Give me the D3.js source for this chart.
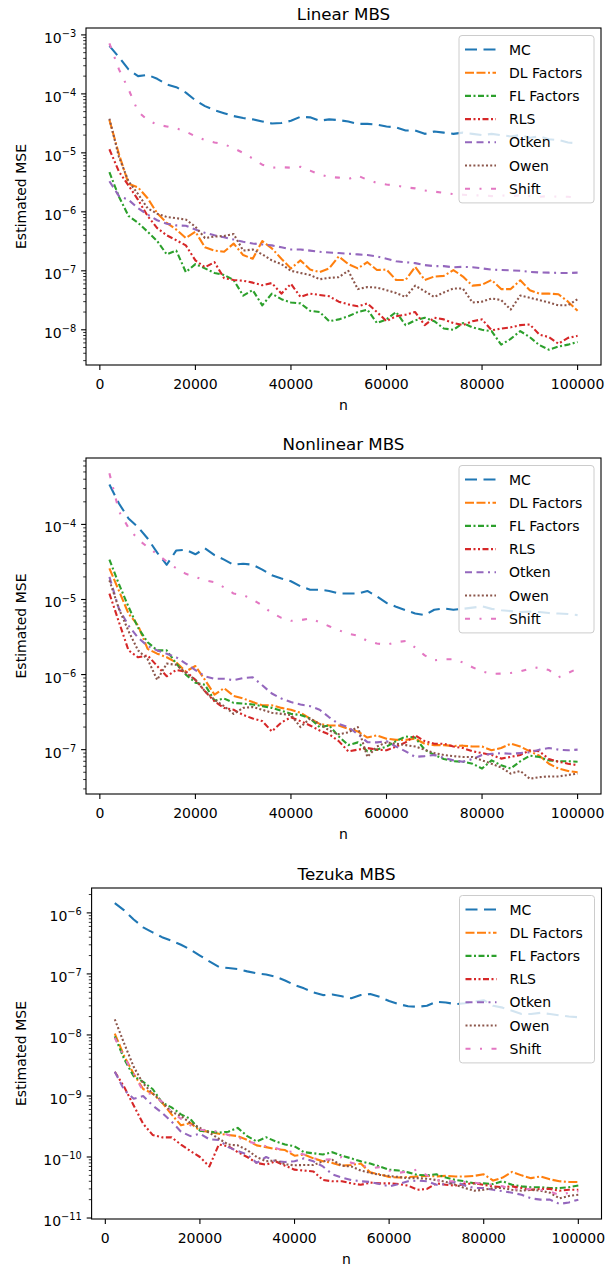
<!DOCTYPE html>
<html><head><meta charset="utf-8">
<script src="https://cdn.jsdelivr.net/npm/d3@7"></script>
<style>
body{margin:0;background:#fff}
svg{display:block}
text{font-family:"DejaVu Sans",sans-serif;fill:#000}
</style>
</head><body>
<svg id="chart" width="605" height="1272"></svg>
<script>
// ---------------- data ----------------
const nValues = [2000,4000,6000,8000,10000,12000,14000,16000,18000,20000,
  22000,24000,26000,28000,30000,32000,34000,36000,38000,40000,
  42000,44000,46000,48000,50000,52000,54000,56000,58000,60000,
  62000,64000,66000,68000,70000,72000,74000,76000,78000,80000,
  82000,84000,86000,88000,90000,92000,94000,96000,98000,100000];

const seriesNames  = ["MC","DL Factors","FL Factors","RLS","Otken","Owen","Shift"];
const seriesColors = ["#1f77b4","#ff7f0e","#2ca02c","#d62728","#9467bd","#8c564b","#e377c2"];
const seriesDashes = ["12,6.5","9,2.5,9,2.5,2,2.5","6,2.5,2,2.5","6,2.5,2,2.5,2,2.5","7,4.5,7,4.5,2,4.5","2,2.2","5,9.5,2,9.5"];
const xTickValues = [0,20000,40000,60000,80000,100000];
const panelTitles = ["Linear MBS","Nonlinear MBS","Tezuka MBS"];
const yAxisLabel = "Estimated MSE";
const xAxisLabel = "n";

// Linear MBS
const linearMC = [6.5e-4,4.2e-4,2.6e-4,2.0e-4,2.1e-4,1.8e-4,1.45e-4,1.3e-4,1.05e-4,7.8e-5,
  6.2e-5,5.3e-5,4.7e-5,4.2e-5,3.9e-5,3.7e-5,3.4e-5,3.15e-5,3.2e-5,3.5e-5,
  4.1e-5,4.0e-5,3.5e-5,3.7e-5,3.6e-5,3.4e-5,3.1e-5,3.1e-5,3.0e-5,2.8e-5,
  2.7e-5,2.4e-5,2.4e-5,2.1e-5,2.3e-5,2.2e-5,2.1e-5,2.2e-5,2.1e-5,2.0e-5,
  2.1e-5,2.0e-5,1.9e-5,2.0e-5,1.8e-5,1.9e-5,1.7e-5,1.65e-5,1.5e-5,1.45e-5];
const linearDL = [3.6e-5,9.5e-6,3.0e-6,2.6e-6,1.7e-6,9.5e-7,6.5e-7,5.0e-7,3.6e-7,4.6e-7,
  2.5e-7,2.2e-7,2.1e-7,2.9e-7,1.85e-7,1.6e-7,3.2e-7,2.4e-7,1.6e-7,1.1e-7,
  1.5e-7,1.05e-7,9.5e-8,1.1e-7,1.75e-7,1.3e-7,1.1e-7,1.4e-7,1.03e-7,1.05e-7,
  7.0e-8,7.0e-8,1.17e-7,7.0e-8,8.0e-8,8.2e-8,1.03e-7,8.0e-8,5.6e-8,5.8e-8,
  7.0e-8,4.9e-8,4.9e-8,6.9e-8,4.7e-8,4.1e-8,4.1e-8,4.0e-8,3.0e-8,2.1e-8];
const linearFL = [4.7e-6,1.8e-6,8.5e-7,6.5e-7,4.6e-7,3.2e-7,1.9e-7,2.2e-7,9.5e-8,1.3e-7,
  1.1e-7,9.2e-8,8.5e-8,7.0e-8,3.8e-8,4.7e-8,2.6e-8,4.1e-8,3.3e-8,2.9e-8,
  2.8e-8,2.1e-8,2.0e-8,1.4e-8,1.5e-8,1.7e-8,2.0e-8,2.2e-8,1.3e-8,1.5e-8,
  2.0e-8,1.2e-8,1.45e-8,1.6e-8,1.4e-8,1.05e-8,1.0e-8,1.3e-8,1.1e-8,1.0e-8,
  9.5e-9,5.6e-9,7.0e-9,9.5e-9,7.5e-9,5.5e-9,4.6e-9,5.2e-9,5.6e-9,6.2e-9];
const linearRLS = [1.15e-5,4.8e-6,2.8e-6,1.6e-6,8.5e-7,5.3e-7,4.0e-7,3.3e-7,2.7e-7,1.5e-7,
  1.15e-7,1.4e-7,7.5e-8,7.0e-8,6.8e-8,6.3e-8,5.7e-8,6.2e-8,4.1e-8,6.0e-8,
  3.6e-8,4.1e-8,3.9e-8,3.7e-8,3.0e-8,2.7e-8,2.5e-8,2.8e-8,2.0e-8,1.4e-8,
  1.7e-8,1.8e-8,2.0e-8,1.2e-8,1.6e-8,1.5e-8,1.3e-8,1.2e-8,1.4e-8,1.5e-8,
  9.8e-9,1.05e-8,1.1e-8,1.2e-8,1.23e-8,8.3e-9,7.5e-9,5.8e-9,7.3e-9,7.9e-9];
const linearOtken = [3.3e-6,1.85e-6,1.6e-6,1.15e-6,9.0e-7,7.2e-7,6.3e-7,5.9e-7,5.8e-7,5.0e-7,
  4.4e-7,4.0e-7,3.7e-7,3.4e-7,3.1e-7,2.9e-7,2.8e-7,2.7e-7,2.5e-7,2.3e-7,
  2.3e-7,2.2e-7,2.1e-7,2.05e-7,2.0e-7,1.95e-7,1.9e-7,1.85e-7,1.75e-7,1.6e-7,
  1.45e-7,1.4e-7,1.35e-7,1.25e-7,1.2e-7,1.2e-7,1.15e-7,1.17e-7,1.15e-7,1.1e-7,
  1.05e-7,1.03e-7,1.02e-7,1.0e-7,9.6e-8,9.4e-8,9.3e-8,9.2e-8,9.2e-8,9.3e-8];
const linearOwen = [3.8e-5,8.5e-6,3.3e-6,2.0e-6,1.15e-6,9.3e-7,8.2e-7,7.8e-7,7.4e-7,5.6e-7,
  3.6e-7,3.8e-7,3.9e-7,4.2e-7,2.2e-7,2.3e-7,1.9e-7,1.5e-7,1.3e-7,1.0e-7,
  9.2e-8,8.5e-8,7.2e-8,7.6e-8,7.8e-8,1.0e-7,4.9e-8,5.3e-8,5.2e-8,4.7e-8,
  4.2e-8,3.6e-8,5.6e-8,4.5e-8,3.6e-8,4.3e-8,5.0e-8,5.0e-8,2.9e-8,3.0e-8,
  3.4e-8,3.2e-8,2.2e-8,3.8e-8,3.5e-8,3.2e-8,2.9e-8,2.6e-8,2.6e-8,3.3e-8];
const linearShift = [7.2e-4,2.6e-4,1.2e-4,5.0e-5,3.6e-5,3.0e-5,2.8e-5,2.6e-5,2.3e-5,1.9e-5,
  1.65e-5,1.5e-5,1.4e-5,1.2e-5,1.0e-5,8.0e-6,6.3e-6,5.6e-6,5.7e-6,5.6e-6,
  5.8e-6,5.0e-6,4.3e-6,3.9e-6,3.8e-6,3.6e-6,4.1e-6,3.5e-6,3.1e-6,2.9e-6,
  2.8e-6,2.6e-6,2.5e-6,2.3e-6,2.2e-6,2.1e-6,2.0e-6,1.95e-6,1.9e-6,1.9e-6,
  1.85e-6,1.9e-6,1.85e-6,1.9e-6,1.85e-6,1.8e-6,1.85e-6,1.8e-6,1.8e-6,1.75e-6];

// Nonlinear MBS
const nonlinearMC = [3.4e-4,1.9e-4,1.2e-4,9.2e-5,6.5e-5,4.2e-5,2.9e-5,4.5e-5,4.6e-5,4.0e-5,
  4.8e-5,3.9e-5,3.4e-5,2.9e-5,3.0e-5,2.9e-5,2.5e-5,2.1e-5,1.9e-5,1.75e-5,
  1.5e-5,1.35e-5,1.35e-5,1.3e-5,1.2e-5,1.2e-5,1.2e-5,1.3e-5,1.1e-5,9.0e-6,
  8.0e-6,7.2e-6,6.5e-6,6.2e-6,7.3e-6,7.6e-6,7.3e-6,7.5e-6,7.8e-6,8.1e-6,
  7.5e-6,7.2e-6,7.0e-6,6.8e-6,6.9e-6,6.8e-6,6.6e-6,6.5e-6,6.4e-6,6.2e-6];
const nonlinearDL = [2.6e-5,1.3e-5,6.5e-6,4.5e-6,2.2e-6,1.9e-6,1.7e-6,1.45e-6,1.1e-6,1.3e-6,
  8.5e-7,5.4e-7,6.6e-7,5.2e-7,4.8e-7,4.3e-7,3.9e-7,3.9e-7,3.6e-7,3.4e-7,
  3.1e-7,2.6e-7,2.2e-7,2.1e-7,2.1e-7,1.9e-7,1.75e-7,1.45e-7,1.55e-7,1.4e-7,
  1.35e-7,1.35e-7,1.4e-7,1.2e-7,1.15e-7,1.15e-7,1.12e-7,1.13e-7,1.1e-7,1.1e-7,
  9.8e-8,1.05e-7,1.2e-7,1.1e-7,9.5e-8,8.3e-8,6.5e-8,5.6e-8,5.2e-8,5.0e-8];
const nonlinearFL = [3.4e-5,1.6e-5,8.0e-6,4.2e-6,2.7e-6,2.1e-6,2.1e-6,1.4e-6,1.0e-6,7.8e-7,
  7.3e-7,4.5e-7,4.8e-7,4.2e-7,4.1e-7,4.0e-7,3.8e-7,3.6e-7,3.3e-7,3.0e-7,
  2.9e-7,2.6e-7,2.0e-7,2.1e-7,1.5e-7,1.15e-7,1.25e-7,9.5e-8,1.0e-7,1.1e-7,
  1.3e-7,1.5e-7,1.45e-7,1.0e-7,8.5e-8,7.5e-8,7.0e-8,6.9e-8,6.5e-8,5.6e-8,
  7.2e-8,6.2e-8,5.6e-8,7.0e-8,8.3e-8,8.0e-8,7.2e-8,7.0e-8,7.0e-8,6.9e-8];
const nonlinearRLS = [1.2e-5,5.0e-6,2.1e-6,1.7e-6,1.8e-6,1.3e-6,9.5e-7,1.15e-6,1.1e-6,8.5e-7,
  6.0e-7,4.4e-7,3.6e-7,3.4e-7,2.9e-7,2.6e-7,2.4e-7,1.75e-7,2.3e-7,2.7e-7,
  2.4e-7,2.1e-7,1.8e-7,1.6e-7,1.3e-7,9.5e-8,1.0e-7,1.05e-7,1.0e-7,9.8e-8,
  1.1e-7,1.25e-7,1.55e-7,1.3e-7,1.2e-7,1.2e-7,1.1e-7,1.05e-7,9.5e-8,9.0e-8,
  8.5e-8,7.6e-8,8.0e-8,8.5e-8,9.8e-8,9.5e-8,7.5e-8,6.9e-8,6.5e-8,6.2e-8];
const nonlinearOtken = [2.0e-5,7.5e-6,4.5e-6,3.1e-6,2.4e-6,2.1e-6,1.9e-6,1.7e-6,1.4e-6,1.15e-6,
  9.5e-7,8.8e-7,8.8e-7,8.4e-7,9.0e-7,9.2e-7,7.2e-7,5.6e-7,4.8e-7,4.3e-7,
  4.0e-7,3.8e-7,3.4e-7,2.7e-7,2.2e-7,2.0e-7,1.6e-7,1.26e-7,1.25e-7,1.3e-7,
  1.1e-7,9.5e-8,8.0e-8,8.2e-8,8.5e-8,7.8e-8,7.2e-8,6.9e-8,7.5e-8,8.5e-8,
  8.8e-8,9.0e-8,8.8e-8,9.0e-8,9.2e-8,1.0e-7,1.05e-7,1.0e-7,9.8e-8,1.0e-7];
const nonlinearOwen = [1.8e-5,7.5e-6,3.8e-6,2.1e-6,1.6e-6,8.5e-7,1.4e-6,1.35e-6,1.05e-6,8.5e-7,
  6.0e-7,4.6e-7,3.8e-7,3.0e-7,3.6e-7,3.7e-7,3.4e-7,3.1e-7,3.0e-7,2.9e-7,
  2.0e-7,2.6e-7,2.2e-7,1.8e-7,1.6e-7,1.7e-7,2.0e-7,8.0e-8,1.1e-7,1.25e-7,
  1.2e-7,1.15e-7,1.1e-7,1.0e-7,9.0e-8,8.5e-8,8.2e-8,8.0e-8,8.0e-8,7.2e-8,
  6.5e-8,5.8e-8,4.8e-8,5.2e-8,4.1e-8,4.3e-8,4.4e-8,4.4e-8,4.6e-8,4.8e-8];
const nonlinearShift = [4.8e-4,1.5e-4,9.0e-5,6.3e-5,5.0e-5,4.0e-5,3.2e-5,2.6e-5,2.2e-5,2.0e-5,
  1.8e-5,1.7e-5,1.45e-5,1.2e-5,1.15e-5,1.0e-5,8.3e-6,6.6e-6,5.7e-6,5.2e-6,
  5.3e-6,5.6e-6,5.0e-6,4.4e-6,3.9e-6,3.5e-6,3.3e-6,2.8e-6,2.6e-6,2.5e-6,
  2.7e-6,2.8e-6,2.3e-6,1.8e-6,1.55e-6,1.6e-6,1.6e-6,1.45e-6,1.25e-6,1.1e-6,
  1.02e-6,1.03e-6,1.05e-6,1.1e-6,1.2e-6,1.25e-6,1.15e-6,9.2e-7,1.05e-6,1.2e-6];

// Tezuka MBS
const tezukaMC = [1.45e-6,1.1e-6,7.8e-7,5.8e-7,4.8e-7,4.0e-7,3.5e-7,3.0e-7,2.5e-7,2.0e-7,
  1.6e-7,1.3e-7,1.25e-7,1.2e-7,1.1e-7,1.02e-7,9.8e-8,9.0e-8,7.8e-8,6.6e-8,
  5.8e-8,5.0e-8,4.5e-8,4.6e-8,4.3e-8,4.0e-8,4.5e-8,4.7e-8,4.2e-8,3.6e-8,
  3.2e-8,2.95e-8,2.9e-8,3.0e-8,3.5e-8,3.4e-8,3.2e-8,3.3e-8,3.5e-8,3.7e-8,
  3.0e-8,2.8e-8,2.5e-8,2.2e-8,2.2e-8,2.3e-8,2.2e-8,2.1e-8,2.0e-8,1.95e-8];
const tezukaDL = [1.05e-8,4.5e-9,2.3e-9,1.3e-9,1.1e-9,7.8e-10,5.0e-10,3.3e-10,3.6e-10,2.7e-10,
  2.6e-10,2.4e-10,2.3e-10,2.2e-10,1.9e-10,1.55e-10,1.45e-10,1.35e-10,1.3e-10,1.05e-10,
  1.1e-10,9.5e-11,8.5e-11,8.0e-11,7.2e-11,7.4e-11,7.8e-11,5.6e-11,5.2e-11,4.7e-11,
  4.6e-11,4.7e-11,4.8e-11,4.9e-11,4.8e-11,4.9e-11,4.8e-11,4.8e-11,4.9e-11,5.2e-11,
  4.1e-11,4.6e-11,5.7e-11,5.0e-11,4.5e-11,4.8e-11,4.3e-11,4.0e-11,3.9e-11,3.9e-11];
const tezukaFL = [9.5e-9,4.0e-9,2.1e-9,1.7e-9,1.3e-9,7.8e-10,6.5e-10,5.0e-10,4.2e-10,2.7e-10,
  2.6e-10,2.5e-10,2.6e-10,3.0e-10,2.2e-10,1.8e-10,2.1e-10,1.8e-10,1.6e-10,1.5e-10,
  1.2e-10,1.15e-10,1.1e-10,1.2e-10,1.05e-10,9.5e-11,8.5e-11,7.8e-11,7.0e-11,6.2e-11,
  6.0e-11,5.6e-11,5.1e-11,5.0e-11,5.2e-11,4.6e-11,4.2e-11,4.0e-11,3.7e-11,3.7e-11,
  3.6e-11,4.0e-11,3.5e-11,3.3e-11,3.2e-11,3.2e-11,3.1e-11,3.1e-11,3.2e-11,3.4e-11];
const tezukaRLS = [2.5e-9,1.4e-9,7.0e-10,3.5e-10,2.3e-10,2.1e-10,2.1e-10,1.6e-10,1.25e-10,1.0e-10,
  7.0e-11,1.6e-10,1.5e-10,1.2e-10,1.0e-10,8.0e-11,7.5e-11,8.5e-11,7.2e-11,6.2e-11,
  6.0e-11,5.8e-11,4.2e-11,4.0e-11,4.0e-11,3.7e-11,3.5e-11,3.8e-11,3.7e-11,3.7e-11,
  3.6e-11,3.4e-11,2.9e-11,3.0e-11,3.7e-11,3.5e-11,3.4e-11,3.6e-11,3.7e-11,3.5e-11,
  3.3e-11,3.2e-11,3.3e-11,3.1e-11,2.9e-11,3.0e-11,3.0e-11,2.8e-11,2.9e-11,2.9e-11];
const tezukaOtken = [2.5e-9,1.25e-9,9.0e-10,1.0e-9,7.0e-10,5.3e-10,3.8e-10,2.6e-10,2.2e-10,2.4e-10,
  1.95e-10,1.9e-10,1.45e-10,1.25e-10,1.1e-10,8.0e-11,1.0e-10,8.5e-11,8.3e-11,8.5e-11,
  9.5e-11,8.5e-11,7.0e-11,5.2e-11,4.6e-11,4.2e-11,4.0e-11,3.9e-11,3.6e-11,3.3e-11,
  3.6e-11,4.0e-11,4.1e-11,4.0e-11,3.5e-11,3.6e-11,3.9e-11,3.4e-11,3.1e-11,3.1e-11,
  2.9e-11,2.75e-11,2.6e-11,2.4e-11,2.1e-11,2.0e-11,2.0e-11,1.7e-11,1.8e-11,2.0e-11];
const tezukaOwen = [1.8e-8,7.2e-9,3.0e-9,1.6e-9,1.1e-9,8.0e-10,5.5e-10,4.7e-10,3.6e-10,3.0e-10,
  2.5e-10,2.0e-10,1.6e-10,1.55e-10,1.3e-10,1.0e-10,8.5e-11,8.8e-11,7.6e-11,7.3e-11,
  7.4e-11,7.4e-11,8.5e-11,9.0e-11,7.2e-11,7.0e-11,6.0e-11,5.5e-11,5.1e-11,4.9e-11,
  4.7e-11,4.5e-11,4.5e-11,4.4e-11,4.2e-11,3.9e-11,3.5e-11,3.1e-11,2.8e-11,2.9e-11,
  3.1e-11,3.1e-11,2.9e-11,2.8e-11,2.9e-11,2.8e-11,2.6e-11,2.1e-11,2.3e-11,2.4e-11];
const tezukaShift = [9.0e-9,4.3e-9,2.3e-9,1.2e-9,1.05e-9,8.0e-10,5.5e-10,4.2e-10,3.3e-10,2.8e-10,
  2.7e-10,2.6e-10,2.3e-10,2.1e-10,1.8e-10,1.65e-10,1.5e-10,1.4e-10,1.25e-10,1.2e-10,
  1.1e-10,9.5e-11,9.0e-11,9.2e-11,1.0e-10,8.0e-11,7.5e-11,6.5e-11,6.8e-11,6.0e-11,
  5.5e-11,5.8e-11,6.2e-11,5.0e-11,4.2e-11,4.0e-11,4.0e-11,3.9e-11,3.8e-11,3.6e-11,
  3.5e-11,3.3e-11,3.0e-11,2.9e-11,3.0e-11,2.9e-11,2.7e-11,2.4e-11,2.6e-11,2.75e-11];

const panelSeries = [
  [linearMC, linearDL, linearFL, linearRLS, linearOtken, linearOwen, linearShift],
  [nonlinearMC, nonlinearDL, nonlinearFL, nonlinearRLS, nonlinearOtken, nonlinearOwen, nonlinearShift],
  [tezukaMC, tezukaDL, tezukaFL, tezukaRLS, tezukaOtken, tezukaOwen, tezukaShift]
];

// ---------------- layout ----------------
const frames = [
  {left: 86,   right: 601,   top: 28,  bottom: 365},
  {left: 86,   right: 601,   top: 458, bottom: 794},
  {left: 91.6, right: 601.5, top: 888, bottom: 1219}
];

const svg = d3.select("#chart");
const FS = 14;

frames.forEach((f, pi) => {
  const data = panelSeries[pi];
  const g = svg.append("g");

  // x scale (matplotlib 5% margins)
  const xMin = d3.min(nValues), xMax = d3.max(nValues);
  const xPad = (xMax - xMin) * 0.05;
  const x = d3.scaleLinear().domain([xMin - xPad, xMax + xPad]).range([f.left, f.right]);

  // y log scale (5% margin in log space)
  const all = data.flat();
  const lmin = Math.log10(d3.min(all)), lmax = Math.log10(d3.max(all));
  const lp = (lmax - lmin) * 0.05;
  const y = d3.scaleLog().domain([Math.pow(10, lmin - lp), Math.pow(10, lmax + lp)]).range([f.bottom, f.top]);

  const clipId = "clip" + pi;
  svg.append("clipPath").attr("id", clipId).append("rect")
    .attr("x", f.left).attr("y", f.top).attr("width", f.right - f.left).attr("height", f.bottom - f.top);

  // lines
  const line = d3.line().x((d, i) => x(nValues[i])).y(d => y(d));
  const lg = g.append("g").attr("clip-path", `url(#${clipId})`);
  data.forEach((s, si) => {
    lg.append("path").datum(s)
      .attr("d", line)
      .attr("fill", "none")
      .attr("stroke", seriesColors[si])
      .attr("stroke-width", 2.1)
      .attr("stroke-dasharray", seriesDashes[si])
      .attr("stroke-linejoin", "round");
  });

  // spines
  g.append("rect").attr("x", f.left).attr("y", f.top)
    .attr("width", f.right - f.left).attr("height", f.bottom - f.top)
    .attr("fill", "none").attr("stroke", "#000").attr("stroke-width", 1.1);

  // x ticks
  xTickValues.forEach(v => {
    const px = x(v);
    g.append("line").attr("x1", px).attr("x2", px).attr("y1", f.bottom).attr("y2", f.bottom + 4.9)
      .attr("stroke", "#000").attr("stroke-width", 1.1);
    g.append("text").attr("x", px).attr("y", f.bottom + 23.6)
      .attr("text-anchor", "middle").attr("font-size", FS).text(String(v));
  });

  // y ticks
  const [d0, d1] = y.domain();
  const kLo = Math.floor(Math.log10(d0)), kHi = Math.ceil(Math.log10(d1));
  for (let k = kLo; k <= kHi; k++) {
    for (let m = 1; m <= 9; m++) {
      const v = m * Math.pow(10, k);
      if (v < d0 || v > d1) continue;
      const py = y(v);
      const major = m === 1;
      g.append("line").attr("x1", f.left).attr("x2", f.left - (major ? 4.9 : 2.8))
        .attr("y1", py).attr("y2", py).attr("stroke", "#000").attr("stroke-width", major ? 1.1 : 0.8);
      if (major) {
        const t = g.append("text").attr("x", f.left - 9.8).attr("y", py + 8)
          .attr("text-anchor", "end").attr("font-size", FS);
        t.append("tspan").text("10");
        t.append("tspan").attr("font-size", FS * 0.7).attr("dy", -5.8).text("\u2212" + Math.abs(k));
      }
    }
  }

  // titles and labels
  g.append("text").attr("x", (f.left + f.right) / 2).attr("y", f.top - 8.5)
    .attr("text-anchor", "middle").attr("font-size", 16.7).text(panelTitles[pi]);
  g.append("text").attr("x", (f.left + f.right) / 2).attr("y", f.bottom + 45)
    .attr("text-anchor", "middle").attr("font-size", FS).text(xAxisLabel);
  g.append("text").attr("transform", `translate(25.5,${(f.top + f.bottom) / 2}) rotate(-90)`)
    .attr("text-anchor", "middle").attr("font-size", FS).text(yAxisLabel);

  // legend
  const lw = 135, rowH = 23.2;
  const lx = f.right - 7 - lw, ly = f.top + 7.5;
  const leg = g.append("g");
  leg.append("rect").attr("x", lx).attr("y", ly).attr("width", lw).attr("height", rowH * seriesNames.length + 5)
    .attr("rx", 3).attr("fill", "#fff").attr("fill-opacity", 0.8)
    .attr("stroke", "#cccccc").attr("stroke-width", 1);
  seriesNames.forEach((name, si) => {
    const cy = ly + 14 + si * rowH;
    leg.append("line").attr("x1", lx + 6).attr("x2", lx + 37).attr("y1", cy).attr("y2", cy)
      .attr("stroke", seriesColors[si]).attr("stroke-width", 2.1)
      .attr("stroke-dasharray", seriesDashes[si]);
    leg.append("text").attr("x", lx + 50).attr("y", cy + 5)
      .attr("font-size", FS).text(name);
  });
});
</script>
</body></html>
